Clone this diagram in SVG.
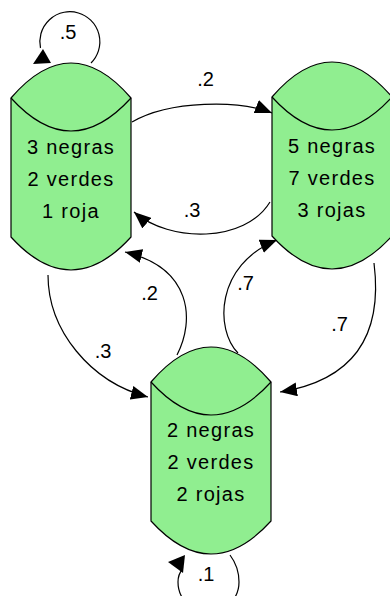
<svg xmlns="http://www.w3.org/2000/svg" width="390" height="596" viewBox="0 0 390 596">
<style>
.shape{fill:#90ee90;stroke:#000;stroke-width:1.2;stroke-linejoin:round}
.inner{fill:none;stroke:#000;stroke-width:1.2}
.ntext{font-family:"Liberation Sans",Arial,Helvetica,sans-serif;font-size:20px;letter-spacing:1.3px;text-anchor:middle;fill:#000}
.edge{fill:none;stroke:#000;stroke-width:1.2}
.arrowed{marker-end:url(#arrow)}
.lbl{font-family:"Liberation Sans",Arial,Helvetica,sans-serif;font-size:20px;text-anchor:middle;fill:#000}
.head{fill:#000;stroke:none}
</style>
<defs>
<marker id="arrow" markerUnits="userSpaceOnUse" markerWidth="17" markerHeight="14" viewBox="0 0 17 14" refX="17" refY="7" orient="auto">
<path d="M0,0 L17,7 L0,14 z" fill="#000"/>
</marker>
<path id="cyl" d="M-60,35 Q0,-35 60,35 L60,174 Q0,240 -60,174 Z"/>
<path id="cylIn" d="M-60,35 Q0,101 60,35"/>
</defs>

<g id="connectors">
<path class="edge" d="M91,63 A30,30 0 1 0 40.5,48"/>
<polygon class="head" points="33,64 43,49 51,63"/>
<text class="lbl" x="68" y="38.5">.5</text>

<path class="edge arrowed" d="M132,122 C170,100 240,100 272,113"/>
<text class="lbl" x="205.5" y="86">.2</text>

<path class="edge arrowed" d="M270,202 C245,243 170,243 134,212"/>
<text class="lbl" x="192" y="216.5">.3</text>

<path class="edge arrowed" d="M48,275 C48,330 90,382 148,397"/>
<text class="lbl" x="103" y="357.5">.3</text>

<path class="edge arrowed" d="M177,355 C195,320 192,268 125,252"/>
<text class="lbl" x="149.5" y="299.5">.2</text>

<path class="edge arrowed" d="M238,353 C215,330 215,265 277,240"/>
<text class="lbl" x="245.5" y="290">.7</text>

<path class="edge arrowed" d="M374,263 C383,335 355,380 280,392"/>
<text class="lbl" x="339.5" y="331">.7</text>

<path class="edge" d="M230,555 C236,563 239,572 239,582 A30.5,30.5 0 0 1 178,582 C178,576 180,572 182.5,569"/>
<polygon class="head" points="168,562 185,555 183,573"/>
<text class="lbl" x="206" y="581">.1</text>
</g>

<g id="node1" transform="translate(71,63)">
<use href="#cyl" class="shape"/>
<use href="#cylIn" class="inner"/>
<text class="ntext" x="0" y="91">3 negras</text>
<text class="ntext" x="0" y="123">2 verdes</text>
<text class="ntext" x="0" y="155">1 roja</text>
</g>

<g id="node2" transform="translate(332,62)">
<use href="#cyl" class="shape"/>
<use href="#cylIn" class="inner"/>
<text class="ntext" x="0" y="90.5">5 negras</text>
<text class="ntext" x="0" y="122.5">7 verdes</text>
<text class="ntext" x="0" y="154.5">3 rojas</text>
</g>

<g id="node3" transform="translate(211,347)">
<use href="#cyl" class="shape"/>
<use href="#cylIn" class="inner"/>
<text class="ntext" x="0" y="90">2 negras</text>
<text class="ntext" x="0" y="122">2 verdes</text>
<text class="ntext" x="0" y="154">2 rojas</text>
</g>
</svg>
